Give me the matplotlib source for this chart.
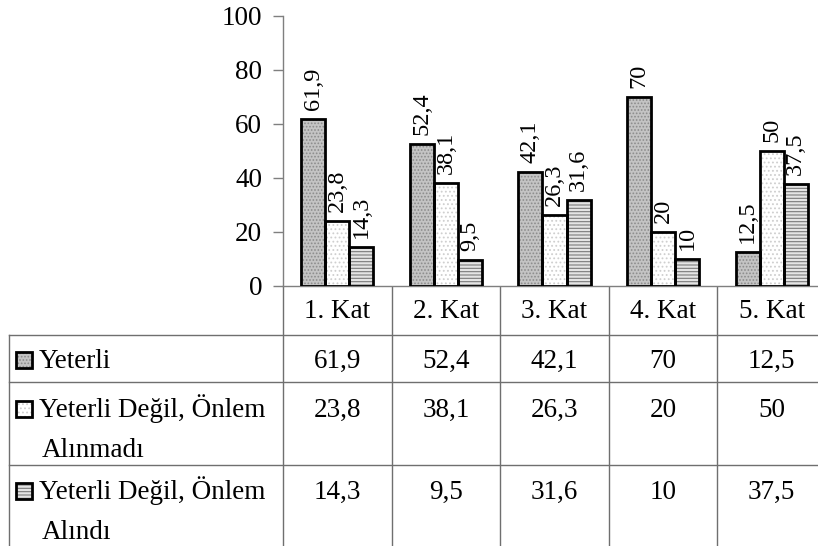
import matplotlib
matplotlib.use("Agg")
import matplotlib.pyplot as plt
from matplotlib.patches import Rectangle
from matplotlib.transforms import blended_transform_factory

plt.rcParams['font.family'] = ['Liberation Serif', 'DejaVu Serif']
plt.rcParams['hatch.linewidth'] = 0.8

categories = ["1. Kat", "2. Kat", "3. Kat", "4. Kat", "5. Kat"]
series_names = ["Yeterli", "Yeterli Değil, Önlem\nAlınmadı", "Yeterli Değil, Önlem\nAlındı"]
yeterli = [61.9, 52.4, 42.1, 70, 12.5]
degil_alinmadi = [23.8, 38.1, 26.3, 20, 50]
degil_alindi = [14.3, 9.5, 31.6, 10, 37.5]
series = [yeterli, degil_alinmadi, degil_alindi]
yticks = [0, 20, 40, 60, 80, 100]

styles = [
    dict(face='#c4c4c4', hatch='.....', hcol='#8c8c8c'),
    dict(face='#ffffff', hatch='....', hcol='#cfcfcf'),
    dict(face='#e4e4e4', hatch='-----', hcol='#7a7a7a'),
]

FS = 19.5
FS_LBL = 17.5

def fmt(v):
    return f"{v:g}".replace('.', ',')

W, H = 818, 546
fig = plt.figure(figsize=(W / 100, H / 100), dpi=100)

x0, x1 = 283, 283 + 108.6 * 5
ytop, ybot = 15.7, 285.7
ax = fig.add_axes([x0 / W, (H - ybot) / H, (x1 - x0) / W, (ybot - ytop) / H])
ax.set_xlim(-0.5, 4.5)
ax.set_ylim(0, 100)
ax.set_yticks(yticks)
ax.set_yticklabels([str(t) for t in yticks], fontsize=FS)
ax.set_xticks([])
for s in ['top', 'right']:
    ax.spines[s].set_visible(False)
for s in ['left', 'bottom']:
    ax.spines[s].set_color('#7f7f7f')
    ax.spines[s].set_linewidth(1.0)
ax.tick_params(axis='y', length=7, width=1.0, color='#7f7f7f', pad=8)

bw = 0.221
xs = list(range(len(categories)))
for k, vals in enumerate(series):
    off = (k - 1) * bw
    pos = [x + off for x in xs]
    st = styles[k]
    ax.bar(pos, vals, width=bw, color=st['face'], hatch=st['hatch'],
           edgecolor=st['hcol'], linewidth=0, zorder=2)
    ax.bar(pos, vals, width=bw, fill=False, edgecolor='black', linewidth=2.0, zorder=3)
    for p, v in zip(pos, vals):
        ax.annotate(fmt(v), (p, v), xytext=(0, 6.5), textcoords='offset points',
                    rotation=90, ha='center', va='bottom', fontsize=FS_LBL)

ax2 = fig.add_axes([0, 0, 1, 1], zorder=-1)
ax2.set_xlim(0, W)
ax2.set_ylim(H, 0)
ax2.axis('off')
tr = blended_transform_factory(ax.transData, ax2.transData)

lc = '#6f6f6f'
for yy in [335, 382, 465]:
    ax2.plot([9, W], [yy, yy], color=lc, lw=1.0)
ax2.plot([9, 9], [335, H], color=lc, lw=1.0)
for i in range(len(categories)):
    ax2.plot([i - 0.5, i - 0.5], [286, H], color=lc, lw=1.0, transform=tr)

for i, c in enumerate(categories):
    ax2.text(i, 318, c, ha='center', va='baseline', fontsize=FS, transform=tr)

row_base = [368, 417, 499]
for k, (name, vals) in enumerate(zip(series_names, series)):
    st = styles[k]
    rb = row_base[k]
    ax2.add_patch(Rectangle((16, rb - 16), 16, 16, facecolor=st['face'], hatch=st['hatch'],
                            edgecolor=st['hcol'], linewidth=0))
    ax2.add_patch(Rectangle((16, rb - 16), 16, 16, fill=False, edgecolor='black', linewidth=2.0))
    lines = name.split('\n')
    for j, ln in enumerate(lines):
        ax2.text(39 if j == 0 else 42, rb + j * 40, ln, ha='left', va='baseline', fontsize=FS)
    for i, v in enumerate(vals):
        ax2.text(i, rb, fmt(v), ha='center', va='baseline', fontsize=FS, transform=tr)

fig.savefig('out.png', dpi=100)
